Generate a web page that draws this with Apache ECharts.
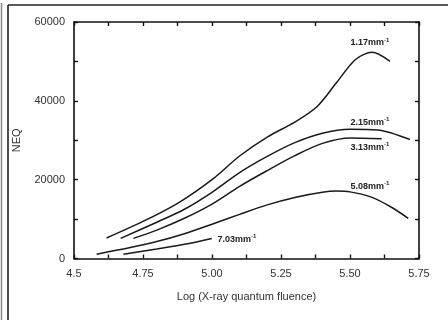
<!DOCTYPE html>
<html>
<head>
<meta charset="utf-8">
<script src="https://cdn.jsdelivr.net/npm/echarts@6/dist/echarts.min.js"></script>
<style>html,body{margin:0;padding:0;background:#fff;}#c{width:448px;height:320px;}</style>
</head>
<body>
<div id="c"></div>
<script>
// Data
var seriesNames = ['1.17', '2.15', '3.13', '5.08', '7.03'];
var x117 = [4.618, 4.75, 4.88, 5.0, 5.1, 5.2, 5.3, 5.38, 5.45, 5.52, 5.58, 5.645];
var y117 = [5200, 9400, 14200, 20000, 26000, 30800, 34600, 38500, 44500, 50500, 52300, 50000];
var x215 = [4.669, 4.8, 4.9, 5.0, 5.1, 5.2, 5.3, 5.4, 5.5, 5.6, 5.717];
var y215 = [5100, 9200, 12500, 16800, 21800, 25900, 29400, 31800, 32800, 32600, 30200];
var x313 = [4.715, 4.8, 4.9, 5.0, 5.1, 5.2, 5.3, 5.4, 5.5, 5.615];
var y313 = [5100, 7200, 10200, 13800, 18300, 22300, 26100, 29200, 30600, 30400];
var x508 = [4.582, 4.7, 4.8, 4.9, 5.0, 5.1, 5.2, 5.3, 5.4, 5.45, 5.5, 5.58, 5.65, 5.711];
var y508 = [1100, 2700, 4300, 6300, 8700, 11200, 13600, 15500, 16800, 17100, 16900, 15500, 13000, 10200];
var x703 = [4.679, 4.8, 4.9, 4.999];
var y703 = [1100, 2400, 3600, 5100];
// label anchor positions (data coordinates)
var labelX = [5.572, 5.572, 5.572, 5.572, 5.09];
var labelY = [54700, 34450, 28200, 18200, 4870];
var xTickLabels = {'4.5': '4.5', '4.75': '4.75', '5': '5.00', '5.25': '5.25', '5.5': '5.50', '5.75': '5.75'};
var yTickLabels = {'0': '0', '20000': '20000', '40000': '40000', '60000': '60000'};

function zip(xs, ys) { return xs.map(function (v, i) { return [v, ys[i]]; }); }
var allX = [x117, x215, x313, x508, x703];
var allY = [y117, y215, y313, y508, y703];

var chart = echarts.init(document.getElementById('c'), null, {renderer: 'canvas'});
var font = 'Liberation Sans, Arial, sans-serif';
var axisCommon = {
  axisLine: {show: true, onZero: false, lineStyle: {color: '#111', width: 1.6}},
  axisTick: {show: true, inside: true, length: 4, lineStyle: {color: '#111', width: 1.4}},
  splitLine: {show: false}
};
var series = seriesNames.map(function (n, i) {
  return {
    type: 'line',
    name: n,
    data: zip(allX[i], allY[i]),
    smooth: 0.3,
    showSymbol: false,
    symbol: 'none',
    lineStyle: {color: '#1a1a1a', width: 1.5},
    markPoint: {
      symbol: 'circle', symbolSize: 0,
      data: [{coord: [labelX[i], labelY[i]]}],
      label: {
        show: true, position: 'inside',
        formatter: n + 'mm{s|-1}',
        color: '#222', fontFamily: font, fontSize: 9, fontWeight: 'bold',
        rich: {s: {fontSize: 6, fontWeight: 'bold', color: '#222', verticalAlign: 'top', padding: [0, 0, 6, 0]}}
      }
    }
  };
});

chart.setOption({
  animation: false,
  backgroundColor: '#fff',
  grid: {left: 74, right: 29, top: 22, bottom: 61.5},
  xAxis: [
    Object.assign({}, axisCommon, {
      type: 'value', min: 4.5, max: 5.75, interval: 0.125, position: 'bottom',
      name: 'Log (X-ray quantum fluence)', nameLocation: 'middle', nameGap: 33,
      nameTextStyle: {fontFamily: font, fontSize: 11, color: '#333'},
      axisLabel: {
        margin: 10, fontFamily: font, fontSize: 11, color: '#333',
        formatter: function (v) { var k = String(+v.toFixed(3)); return xTickLabels[k] || ''; }
      }
    }),
    Object.assign({}, axisCommon, {
      type: 'value', min: 4.5, max: 5.75, interval: 0.125, position: 'top',
      axisLabel: {show: false}
    })
  ],
  yAxis: [
    Object.assign({}, axisCommon, {
      type: 'value', min: 0, max: 60000, interval: 10000, position: 'left',
      name: 'NEQ', nameLocation: 'middle', nameGap: 52, nameRotate: 90,
      nameTextStyle: {fontFamily: font, fontSize: 11, color: '#333'},
      axisLabel: {
        margin: 9, fontFamily: font, fontSize: 11, color: '#333',
        formatter: function (v) { return yTickLabels[String(v)] || ''; }
      }
    }),
    Object.assign({}, axisCommon, {
      type: 'value', min: 0, max: 60000, interval: 10000, position: 'right',
      axisLabel: {show: false}
    })
  ],
  series: series,
  graphic: [
    {type: 'line', shape: {x1: 1.5, y1: 3, x2: 1.5, y2: 320}, style: {stroke: '#888', lineWidth: 1.5}, silent: true},
    {type: 'line', shape: {x1: 8, y1: 5, x2: 8, y2: 320}, style: {stroke: '#222', lineWidth: 1.6}, silent: true},
    {type: 'line', shape: {x1: 8, y1: 5, x2: 448, y2: 5}, style: {stroke: '#222', lineWidth: 1.6}, silent: true}
  ]
});
</script>
</body>
</html>
